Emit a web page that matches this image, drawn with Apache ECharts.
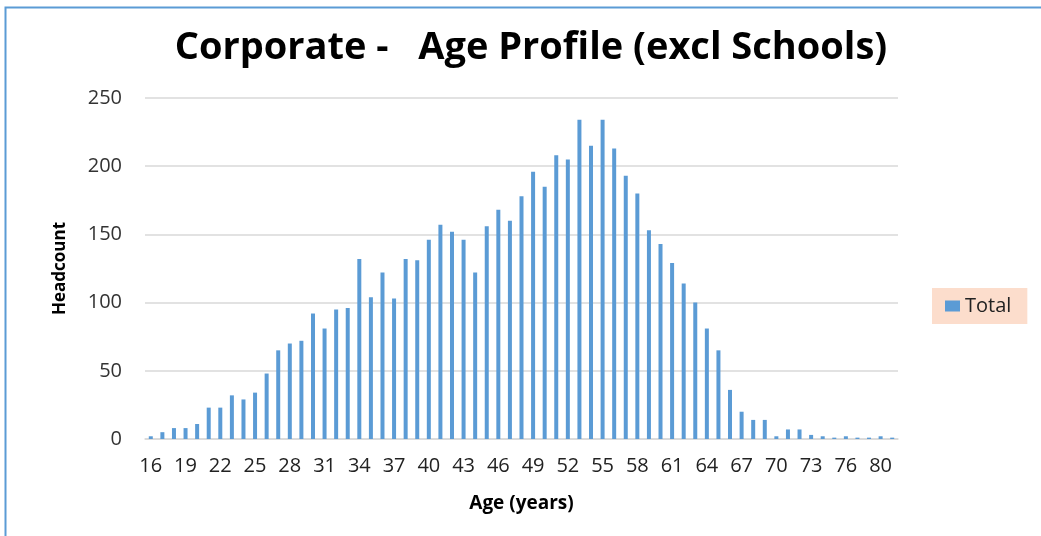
<!DOCTYPE html>
<html>
<head>
<meta charset="utf-8">
<script src="https://cdn.jsdelivr.net/npm/echarts@6/dist/echarts.min.js"></script>
<style>
  html, body { margin: 0; padding: 0; background: #fff; }
  #chart { width: 1041px; height: 536px; }
</style>
</head>
<body>
<div id="chart"></div>
<script>
// ages (78 has no entry in the source sheet)
const ages = [
  16, 17, 18, 19, 20, 21, 22, 23, 24, 25, 26, 27, 28, 29, 30, 31, 32, 33, 34, 35,
  36, 37, 38, 39, 40, 41, 42, 43, 44, 45, 46, 47, 48, 49, 50, 51, 52, 53, 54, 55,
  56, 57, 58, 59, 60, 61, 62, 63, 64, 65, 66, 67, 68, 69, 70, 71, 72, 73, 74, 75,
  76, 77, 79, 80, 81
];
// headcount per age
const total = [
  2, 5, 8, 8, 11, 23, 23, 32, 29, 34, 48, 65, 70, 72, 92, 81, 95, 96, 132, 104,
  122, 103, 132, 131, 146, 157, 152, 146, 122, 156, 168, 160, 178, 196, 185, 208, 205, 234, 215, 234,
  213, 193, 180, 153, 143, 129, 114, 100, 81, 65, 36, 20, 14, 14, 2, 7, 7, 3, 2, 1,
  2, 1, 1, 2, 1
];

var chartDom = document.getElementById('chart');
var myChart = echarts.init(chartDom);
var font = 'Open Sans';

var option = {
  animation: false,
  textStyle: { fontFamily: font },
  title: {
    text: 'Corporate -   Age Profile (excl Schools)',
    left: 526,
    top: 24,
    textAlign: 'center',
    textStyle: { fontSize: 38, fontWeight: 'bold', color: '#000', fontFamily: font }
  },
  legend: {
    data: ['Total'],
    orient: 'vertical',
    left: 932,
    top: 288,
    padding: [8, 16, 8, 13],
    backgroundColor: '#FCDDCC',
    itemWidth: 15,
    itemHeight: 11,
    itemGap: 6,
    icon: 'rect',
    textStyle: { fontSize: 20, color: '#222', fontFamily: font }
  },
  grid: { left: 145, right: 143, top: 98, bottom: 97 },
  xAxis: {
    type: 'category',
    data: ages,
    name: 'Age (years)',
    nameLocation: 'middle',
    nameGap: 55,
    nameTextStyle: { fontSize: 19, fontWeight: 'bold', color: '#000' },
    axisLine: { lineStyle: { color: '#D9D9D9', width: 1.5 } },
    axisTick: { show: false },
    axisLabel: { interval: 2, fontSize: 20, color: '#222', margin: 17 }
  },
  yAxis: {
    type: 'value',
    min: 0,
    max: 250,
    interval: 50,
    name: 'Headcount',
    nameLocation: 'middle',
    nameGap: 76,
    nameTextStyle: { fontSize: 17, fontWeight: 'bold', color: '#000' },
    axisLabel: { fontSize: 20, color: '#333', margin: 23 },
    splitLine: { lineStyle: { color: '#D9D9D9', width: 1.5 } }
  },
  series: [
    {
      name: 'Total',
      type: 'bar',
      data: total,
      barWidth: 4,
      itemStyle: { color: '#5B9BD5' }
    }
  ],
  graphic: [
    {
      type: 'rect',
      shape: { x: 5.5, y: 7.5, width: 1100, height: 600 },
      style: { fill: 'none', stroke: '#5B9BD5', lineWidth: 2 },
      silent: true
    }
  ]
};
option && myChart.setOption(option);
</script>
</body>
</html>
